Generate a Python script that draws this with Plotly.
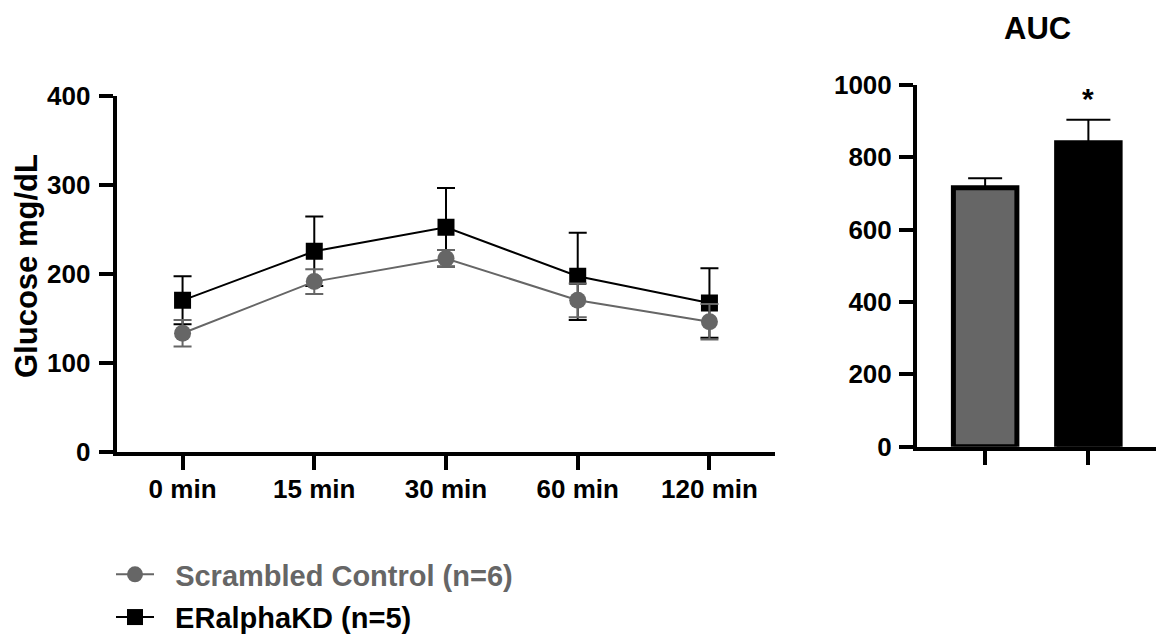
import plotly.graph_objects as go

# Glucose tolerance time course
timepoints = ["0 min", "15 min", "30 min", "60 min", "120 min"]
control_mean = [133, 191, 217, 170, 146]
control_sem = [15, 14, 9.5, 19, 20]
kd_mean = [170, 225, 252, 197, 167]
kd_sem = [27, 39, 44, 49, 39]

# Area under the curve
auc_groups = ["Scrambled Control", "ERalphaKD"]
auc_mean = [716, 840]
auc_sem = [26, 64]

GRAY = "#666666"
BLACK = "#000000"
FONT = "Liberation Sans"
W, H = 1156, 638
NBSP = "\u00a0"

fig = go.Figure()

# KD trace first so the control markers sit on top of its whiskers
fig.add_trace(go.Scatter(
    x=timepoints, y=kd_mean, mode="lines+markers",
    name=NBSP * 2 + "ERalphaKD (n=5)", legendrank=2, legendgroup="kd",
    line=dict(color=BLACK, width=2),
    marker=dict(symbol="square", size=17, color=BLACK),
    error_y=dict(type="data", array=kd_sem, color=BLACK, thickness=2, width=9),
    xaxis="x", yaxis="y",
))
fig.add_trace(go.Scatter(
    x=timepoints, y=control_mean, mode="lines+markers",
    name=NBSP * 2 + f'<span style="color:{GRAY}">Scrambled Control (n=6)</span>',
    legendrank=1, legendgroup="ctrl",
    line=dict(color=GRAY, width=2),
    marker=dict(symbol="circle", size=17, color=GRAY),
    error_y=dict(type="data", array=control_sem, color=GRAY, thickness=2, width=9),
    xaxis="x", yaxis="y",
))

# AUC bars
bar_colors = [GRAY, BLACK]
cap_widths = [17, 22]
for g, m, e, c, cw in zip(auc_groups, auc_mean, auc_sem, bar_colors, cap_widths):
    fig.add_trace(go.Bar(
        x=[g], y=[m], width=0.615, showlegend=False,
        marker=dict(color=c, line=dict(color=BLACK, width=5)),
        error_y=dict(type="data", array=[e], arrayminus=[0], symmetric=False,
                     color=BLACK, thickness=2, width=cw),
        xaxis="x2", yaxis="y2",
    ))

tick_font = dict(family=FONT, size=26, color=BLACK, weight="bold")
axis_common = dict(
    showline=True, linecolor=BLACK, linewidth=4,
    ticks="outside", ticklen=14, tickwidth=4, tickcolor=BLACK,
    showgrid=False, zeroline=False, tickfont=tick_font,
)

fig.update_layout(
    width=W, height=H, autosize=False,
    margin=dict(l=0, r=0, t=0, b=0, autoexpand=False),
    paper_bgcolor="white", plot_bgcolor="white",
    barmode="overlay",
    xaxis=dict(
        domain=[116.7 / W, 775.3 / W], type="category",
        categoryorder="array", categoryarray=timepoints,
        range=[-0.5, 4.5], ticklabelstandoff=-3, anchor="y", **axis_common,
    ),
    yaxis=dict(
        domain=[(H - 451.7) / H, (H - 95.5) / H], range=[0, 400],
        tickvals=[0, 100, 200, 300, 400], ticklabelstandoff=3,
        anchor="x", **axis_common,
    ),
    xaxis2=dict(
        domain=[917 / W, 1.0], type="category",
        categoryorder="array", categoryarray=auc_groups,
        range=[-0.66, 1.655], showticklabels=False, anchor="y2", **axis_common,
    ),
    yaxis2=dict(
        domain=[(H - 446.7) / H, (H - 85) / H], range=[0, 1000],
        tickvals=[0, 200, 400, 600, 800, 1000], ticklabelstandoff=2,
        anchor="x2", **axis_common,
    ),
    legend=dict(
        x=111 / W, y=(H - 549) / H, xanchor="left", yanchor="top",
        font=dict(family=FONT, size=29, color=BLACK, weight="bold"),
        bgcolor="rgba(0,0,0,0)", itemwidth=38, tracegroupgap=2,
    ),
    showlegend=True,
)

fig.add_annotation(
    text="Glucose mg/dL", textangle=-90, xref="paper", yref="paper",
    x=27 / W, y=(H - 266) / H, xanchor="center", yanchor="middle",
    showarrow=False, font=dict(family=FONT, size=31, color=BLACK, weight="bold"),
)
fig.add_annotation(
    text="AUC", xref="paper", yref="paper",
    x=1037.5 / W, y=(H - 29) / H, xanchor="center", yanchor="middle",
    showarrow=False, font=dict(family=FONT, size=31, color=BLACK, weight="bold"),
)
fig.add_annotation(
    text="*", xref="x2", yref="y2", x=auc_groups[1], y=962,
    xanchor="center", yanchor="middle", showarrow=False,
    font=dict(family=FONT, size=30, color=BLACK, weight="bold"),
)

fig.write_html("out.html")
